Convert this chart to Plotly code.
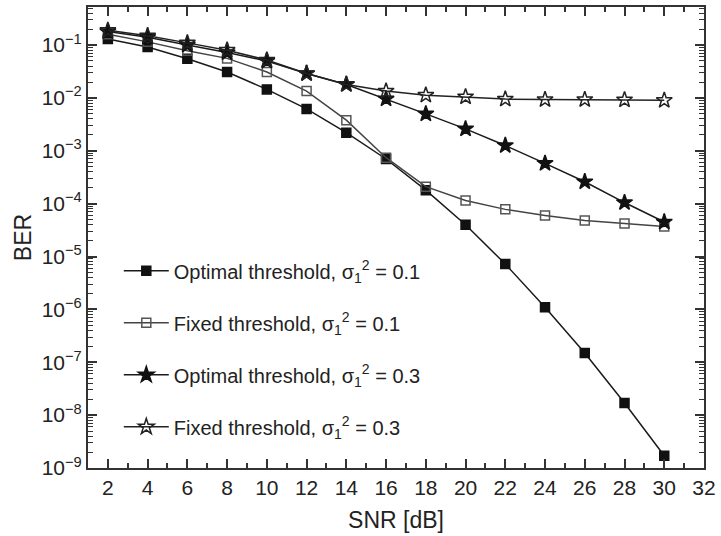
import plotly.graph_objects as go

snr = [2, 4, 6, 8, 10, 12, 14, 16, 18, 20, 22, 24, 26, 28, 30]

ber_opt_01 = [0.13, 0.092, 0.055, 0.031, 0.0145, 0.0062, 0.0022, 7.0e-4, 1.8e-4,
              4.0e-5, 7.2e-6, 1.1e-6, 1.5e-7, 1.7e-8, 1.7e-9]
ber_fix_01 = [0.16, 0.115, 0.078, 0.056, 0.031, 0.0135, 0.0038, 7.4e-4, 2.1e-4,
              1.15e-4, 7.8e-5, 6.0e-5, 4.8e-5, 4.2e-5, 3.7e-5]
ber_opt_03 = [0.18, 0.14, 0.1, 0.072, 0.05, 0.029, 0.018, 0.0096, 0.005,
              0.0026, 0.00126, 5.8e-4, 2.6e-4, 1.05e-4, 4.5e-5]
ber_fix_03 = [0.19, 0.15, 0.11, 0.08, 0.052, 0.029, 0.018, 0.0135, 0.0113,
              0.0105, 0.0095, 0.0093, 0.0093, 0.0092, 0.009]

names = [
    "Optimal threshold, σ<sub>1</sub><sup>2</sup> = 0.1",
    "Fixed threshold, σ<sub>1</sub><sup>2</sup> = 0.1",
    "Optimal threshold, σ<sub>1</sub><sup>2</sup> = 0.3",
    "Fixed threshold, σ<sub>1</sub><sup>2</sup> = 0.3",
]

ytick_vals = [10.0 ** e for e in range(-9, 0)]
ytick_text = ["10<sup>−%d</sup>" % (-e) for e in range(-9, 0)]
xtick_vals = list(range(2, 33, 2))

FONT = "Liberation Sans, Arial, sans-serif"

fig = go.Figure()
styles = [
    (ber_opt_01, "square", "#111111", "#111111", 9, "#1a1a1a"),
    (ber_fix_01, "square-open", "white", "#555555", 9, "#444444"),
    (ber_opt_03, "star", "#111111", "#111111", 12, "#1a1a1a"),
    (ber_fix_03, "star-open", "white", "#222222", 12, "#222222"),
]
for i, (vals, sym, fill, edge, size, lc) in enumerate(styles):
    fig.add_trace(go.Scatter(
        x=snr, y=vals, mode="lines+markers", name=names[i], legendgroup=str(i),
        line=dict(color=lc, width=1.5),
        marker=dict(symbol=sym, size=size, color=fill if "open" not in sym else edge,
                    line=dict(color=edge, width=1.5)),
    ))

axis_common = dict(
    showline=True, linecolor="#333333", linewidth=2, mirror="ticks",
    ticks="inside", ticklen=9, tickwidth=1.5, tickcolor="#333333",
    showgrid=False, zeroline=False,
    tickfont=dict(family=FONT, size=21, color="#222222"),
)

fig.update_layout(
    width=721, height=536,
    margin=dict(l=88, r=13, t=5, b=68),
    paper_bgcolor="white", plot_bgcolor="white",
    font=dict(family=FONT, size=20, color="#222222"),
    xaxis=dict(
        range=[1, 32], tickvals=xtick_vals,
        minor=dict(dtick=1, tick0=1, ticks="inside", ticklen=5, tickwidth=1.5, tickcolor="#333333"),
        title=dict(text="SNR [dB]", font=dict(size=23), standoff=14),
        **axis_common,
    ),
    yaxis=dict(
        type="log", range=[-9, -0.28], tickvals=ytick_vals, ticktext=ytick_text,
        minor=dict(dtick="D1", ticks="inside", ticklen=5, tickwidth=1.2, tickcolor="#333333"),
        title=dict(text="BER", font=dict(size=23), standoff=4),
        **axis_common,
    ),
    showlegend=True,
    legend=dict(
        x=0.05, y=0.47, xanchor="left", yanchor="top",
        bgcolor="rgba(0,0,0,0)", borderwidth=0,
        font=dict(size=20, color="#222222"),
        tracegroupgap=23, itemwidth=45,
    ),
)

fig.write_html("out.html")
